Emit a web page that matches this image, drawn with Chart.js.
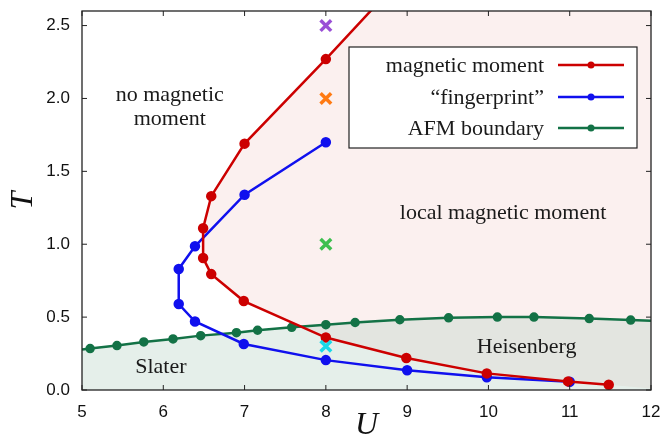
<!DOCTYPE html>
<html>
<head>
<meta charset="utf-8">
<script src="https://cdn.jsdelivr.net/npm/chart.js@4/dist/chart.umd.min.js"></script>
<style>
  html, body { margin: 0; padding: 0; background: #fff; }
  #wrap { width: 662px; height: 445px; }
</style>
</head>
<body>
<div id="wrap"><canvas id="phaseChart" width="662" height="445"></canvas></div>
<script>
// Data ---------------------------------------------------------------
var xTicks = [5, 6, 7, 8, 9, 10, 11, 12];
var yTicks = [0, 0.5, 1.0, 1.5, 2.0, 2.5];

// magnetic moment curve (starts bottom right, bends round, leaves at the top)
var redU = [11.48, 10.98, 9.98, 8.99, 8.0, 6.99, 6.59, 6.49, 6.49, 6.59, 7.0, 8.0, 9.0];
var redT = [0.036, 0.059, 0.114, 0.22, 0.36, 0.61, 0.795, 0.905, 1.11, 1.33, 1.69, 2.27, 2.87];

// "fingerprint" curve
var blueU = [8.0, 7.0, 6.39, 6.19, 6.19, 6.39, 6.99, 8.0, 9.0, 9.98, 11.0];
var blueT = [1.70, 1.34, 0.986, 0.83, 0.59, 0.47, 0.316, 0.205, 0.136, 0.087, 0.056];

// AFM boundary (first and last entries sit on the frame, no marker)
var greenU = [5.0, 5.1, 5.43, 5.76, 6.12, 6.46, 6.9, 7.16, 7.58, 8.0, 8.36, 8.91, 9.51, 10.11, 10.56, 11.24, 11.75, 12.0];
var greenT = [0.278, 0.284, 0.305, 0.33, 0.35, 0.373, 0.393, 0.41, 0.43, 0.448, 0.463, 0.482, 0.495, 0.50, 0.50, 0.49, 0.48, 0.475];

// marked parameter points
var crossU = [8, 8, 8, 8];
var crossT = [2.5, 2.0, 1.0, 0.3];
var crossColors = ['#9a4fd6', '#ff7a12', '#3dbf4f', '#1ad8e8'];

var seriesNames = ['magnetic moment', '\u201cfingerprint\u201d', 'AFM boundary'];
var seriesColors = ['#cc0000', '#1010ee', '#137246'];

function pts(us, ts) {
    return us.map(function (u, i) { return {x: u, y: ts[i]}; });
}

// pink "local moment" region: upper branch of red curve and lower branch, closed at U=12
var turn = 8;
var pinkTop = pts(redU.slice(turn), redT.slice(turn));
pinkTop.push({x: 12, y: redT[redT.length - 1]});
var pinkBottom = pts(redU.slice(0, turn), redT.slice(0, turn)).reverse();
pinkBottom.push({x: 12, y: 0.01});

var serif = '"Liberation Serif", "DejaVu Serif", serif';
var sans = '"Liberation Sans", Arial, sans-serif';

// frame and inward ticks ------------------------------------------------
var framePlugin = {
    id: 'frame',
    afterDraw: function (chart) {
        var ctx = chart.ctx, a = chart.chartArea;
        var xs = chart.scales.x, ys = chart.scales.y;
        ctx.save();
        ctx.strokeStyle = '#222';
        ctx.lineWidth = 1.3;
        ctx.strokeRect(a.left, a.top, a.right - a.left, a.bottom - a.top);
        ctx.lineWidth = 1;
        ctx.beginPath();
        xTicks.forEach(function (v) {
            var px = xs.getPixelForValue(v);
            ctx.moveTo(px, a.bottom); ctx.lineTo(px, a.bottom - 5);
            ctx.moveTo(px, a.top); ctx.lineTo(px, a.top + 5);
        });
        yTicks.forEach(function (v) {
            var py = ys.getPixelForValue(v);
            ctx.moveTo(a.left, py); ctx.lineTo(a.left + 5, py);
            ctx.moveTo(a.right, py); ctx.lineTo(a.right - 5, py);
        });
        ctx.stroke();
        ctx.restore();
    }
};

// region labels and the legend box ------------------------------------------
var labelPlugin = {
    id: 'labels',
    afterDatasetsDraw: function (chart) {
        var ctx = chart.ctx;
        var xs = chart.scales.x, ys = chart.scales.y;
        ctx.save();
        ctx.fillStyle = '#1a1a1a';
        ctx.font = '22px ' + serif;
        ctx.textAlign = 'center';
        ctx.textBaseline = 'alphabetic';
        var texts = [
            ['no magnetic', 6.08, 1.98],
            ['moment', 6.08, 1.815],
            ['local magnetic moment', 10.18, 1.174],
            ['Slater', 5.97, 0.116],
            ['Heisenberg', 10.47, 0.255]
        ];
        texts.forEach(function (t) {
            ctx.fillText(t[0], xs.getPixelForValue(t[1]), ys.getPixelForValue(t[2]));
        });

        // legend
        var bx = 349, by = 47, bw = 288, bh = 101;
        ctx.fillStyle = '#fff';
        ctx.fillRect(bx, by, bw, bh);
        ctx.strokeStyle = '#222';
        ctx.lineWidth = 1.2;
        ctx.strokeRect(bx, by, bw, bh);
        ctx.textAlign = 'right';
        ctx.textBaseline = 'middle';
        var rows = [65, 97, 128];
        seriesNames.forEach(function (name, i) {
            ctx.fillStyle = '#1a1a1a';
            ctx.fillText(name, 544, rows[i] + 1);
            ctx.strokeStyle = seriesColors[i];
            ctx.lineWidth = 2.5;
            ctx.beginPath();
            ctx.moveTo(558, rows[i]); ctx.lineTo(624, rows[i]);
            ctx.stroke();
            ctx.fillStyle = seriesColors[i];
            ctx.beginPath();
            ctx.arc(591, rows[i], 3.5, 0, Math.PI * 2);
            ctx.fill();
        });
        ctx.restore();
    }
};

var greenRadius = greenU.map(function (u, i) { return (i === 0 || i === greenU.length - 1) ? 0 : 3.5; });

var chart = new Chart(document.getElementById('phaseChart'), {
    type: 'line',
    data: {
        datasets: [{
            label: seriesNames[0],
            data: pts(redU, redT),
            borderColor: seriesColors[0],
            backgroundColor: seriesColors[0],
            borderWidth: 2.5,
            pointRadius: 4,
            fill: false,
            order: 1
        }, {
            label: seriesNames[1],
            data: pts(blueU, blueT),
            borderColor: seriesColors[1],
            backgroundColor: seriesColors[1],
            borderWidth: 2.5,
            pointRadius: 4,
            fill: false,
            order: 2
        }, {
            label: seriesNames[2],
            data: pts(greenU, greenT),
            borderColor: seriesColors[2],
            backgroundColor: 'rgba(176,207,191,0.33)',
            pointBackgroundColor: seriesColors[2],
            pointBorderColor: seriesColors[2],
            borderWidth: 2.5,
            pointRadius: greenRadius,
            fill: 'start',
            order: 3
        }, {
            label: 'points',
            data: pts(crossU, crossT),
            showLine: false,
            pointStyle: 'crossRot',
            pointRadius: 7.5,
            pointBorderWidth: 3.5,
            pointBorderColor: crossColors,
            order: 0
        }, {
            label: 'pinkTop',
            data: pinkTop,
            borderWidth: 0,
            borderColor: 'rgba(0,0,0,0)',
            pointRadius: 0,
            backgroundColor: 'rgba(222,130,122,0.12)',
            fill: '+1',
            order: 10
        }, {
            label: 'pinkBottom',
            data: pinkBottom,
            borderWidth: 0,
            borderColor: 'rgba(0,0,0,0)',
            pointRadius: 0,
            fill: false,
            order: 11
        }]
    },
    options: {
        responsive: false,
        animation: false,
        devicePixelRatio: 1,
        layout: { padding: { top: 9, right: 10, left: 0, bottom: 0 } },
        plugins: {
            legend: { display: false },
            tooltip: { enabled: false },
            filler: { drawTime: 'beforeDatasetsDraw' }
        },
        scales: {
            x: {
                type: 'linear',
                min: 5,
                max: 12,
                grid: { display: false },
                border: { display: false },
                afterBuildTicks: function (s) { s.ticks = xTicks.map(function (v) { return {value: v}; }); },
                afterFit: function (s) { s.height = 55; s.paddingLeft = 0; s.paddingRight = 0; },
                ticks: { padding: 4, color: '#111', font: { family: sans, size: 17 } },
                title: { display: true, text: 'U', color: '#111', padding: { top: 0, bottom: 0 },
                         font: { family: serif, size: 32, style: 'italic' } }
            },
            y: {
                type: 'linear',
                min: 0,
                max: 2.6,
                grid: { display: false },
                border: { display: false },
                afterBuildTicks: function (s) { s.ticks = yTicks.map(function (v) { return {value: v}; }); },
                afterFit: function (s) { s.width = 82; s.paddingTop = 0; s.paddingBottom = 0; },
                ticks: { padding: 4, color: '#111', font: { family: sans, size: 17 },
                         callback: function (v) { return v.toFixed(1); } },
                title: { display: true, text: 'T', color: '#111', padding: { top: 4, bottom: 0 },
                         font: { family: serif, size: 32, style: 'italic' } }
            }
        }
    },
    plugins: [framePlugin, labelPlugin]
});
</script>
</body>
</html>
